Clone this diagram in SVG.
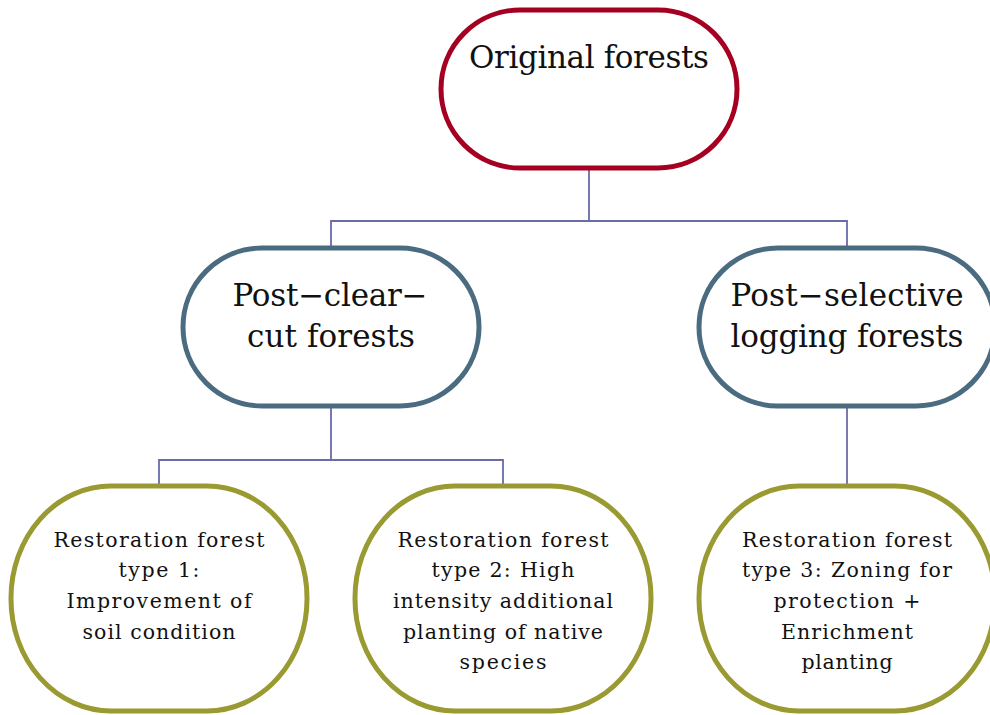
<svg xmlns="http://www.w3.org/2000/svg" width="990" height="715" viewBox="0 0 990 715">
<style>
.n{fill:#fff;stroke-width:5}
.r{stroke:#A50021}
.b{stroke:#4A6B80}
.g{stroke:#9A9A32}
.t{font-family:"DejaVu Serif","Liberation Serif",serif;fill:#111;text-anchor:middle}
.L{font-size:31px}
.S{font-size:20.5px}
.c{fill:none;stroke:#6B6BA8;stroke-width:1.8}
</style>
<rect width="990" height="715" fill="#fff"/>
<g id="connectors">
<path class="c" d="M589 168V221M331 248V221H847V248"/>
<path class="c" d="M331 406V460M159 486V460H503V486"/>
<path class="c" d="M847 406V486"/>
</g>
<g id="original">
<rect class="n r" x="441" y="10" width="296" height="158" rx="79"/>
<text class="t L" x="589" y="68" textLength="240" lengthAdjust="spacing">Original forests</text>
</g>
<g id="clearcut">
<rect class="n b" x="183" y="248" width="296" height="158" rx="79"/>
<text class="t L" x="330" y="306" textLength="195" lengthAdjust="spacing">Post−clear−</text>
<text class="t L" x="331" y="347" textLength="168" lengthAdjust="spacing">cut forests</text>
</g>
<g id="selective">
<rect class="n b" x="699" y="248" width="296" height="158" rx="79"/>
<text class="t L" x="847" y="306" textLength="233" lengthAdjust="spacing">Post−selective</text>
<text class="t L" x="847" y="347" textLength="233" lengthAdjust="spacing">logging forests</text>
</g>
<g id="type1">
<rect class="n g" x="11" y="486" width="296" height="225" rx="100" ry="112"/>
<text class="t S" x="159" y="547" textLength="211" lengthAdjust="spacing">Restoration forest</text>
<text class="t S" x="159" y="577" textLength="81" lengthAdjust="spacing">type 1:</text>
<text class="t S" x="159" y="608" textLength="185" lengthAdjust="spacing">Improvement of</text>
<text class="t S" x="159" y="639" textLength="153" lengthAdjust="spacing">soil condition</text>
</g>
<g id="type2">
<rect class="n g" x="355" y="486" width="296" height="225" rx="100" ry="112"/>
<text class="t S" x="503" y="547" textLength="211" lengthAdjust="spacing">Restoration forest</text>
<text class="t S" x="503" y="577" textLength="143" lengthAdjust="spacing">type 2: High</text>
<text class="t S" x="503" y="608" textLength="220" lengthAdjust="spacing">intensity additional</text>
<text class="t S" x="503" y="639" textLength="200" lengthAdjust="spacing">planting of native</text>
<text class="t S" x="503" y="669" textLength="87" lengthAdjust="spacing">species</text>
</g>
<g id="type3">
<rect class="n g" x="699" y="486" width="296" height="225" rx="100" ry="112"/>
<text class="t S" x="847" y="547" textLength="210" lengthAdjust="spacing">Restoration forest</text>
<text class="t S" x="847" y="577" textLength="210" lengthAdjust="spacing">type 3: Zoning for</text>
<text class="t S" x="847" y="608" textLength="147" lengthAdjust="spacing">protection +</text>
<text class="t S" x="847" y="639" textLength="132" lengthAdjust="spacing">Enrichment</text>
<text class="t S" x="847" y="669" textLength="91" lengthAdjust="spacing">planting</text>
</g>
</svg>
